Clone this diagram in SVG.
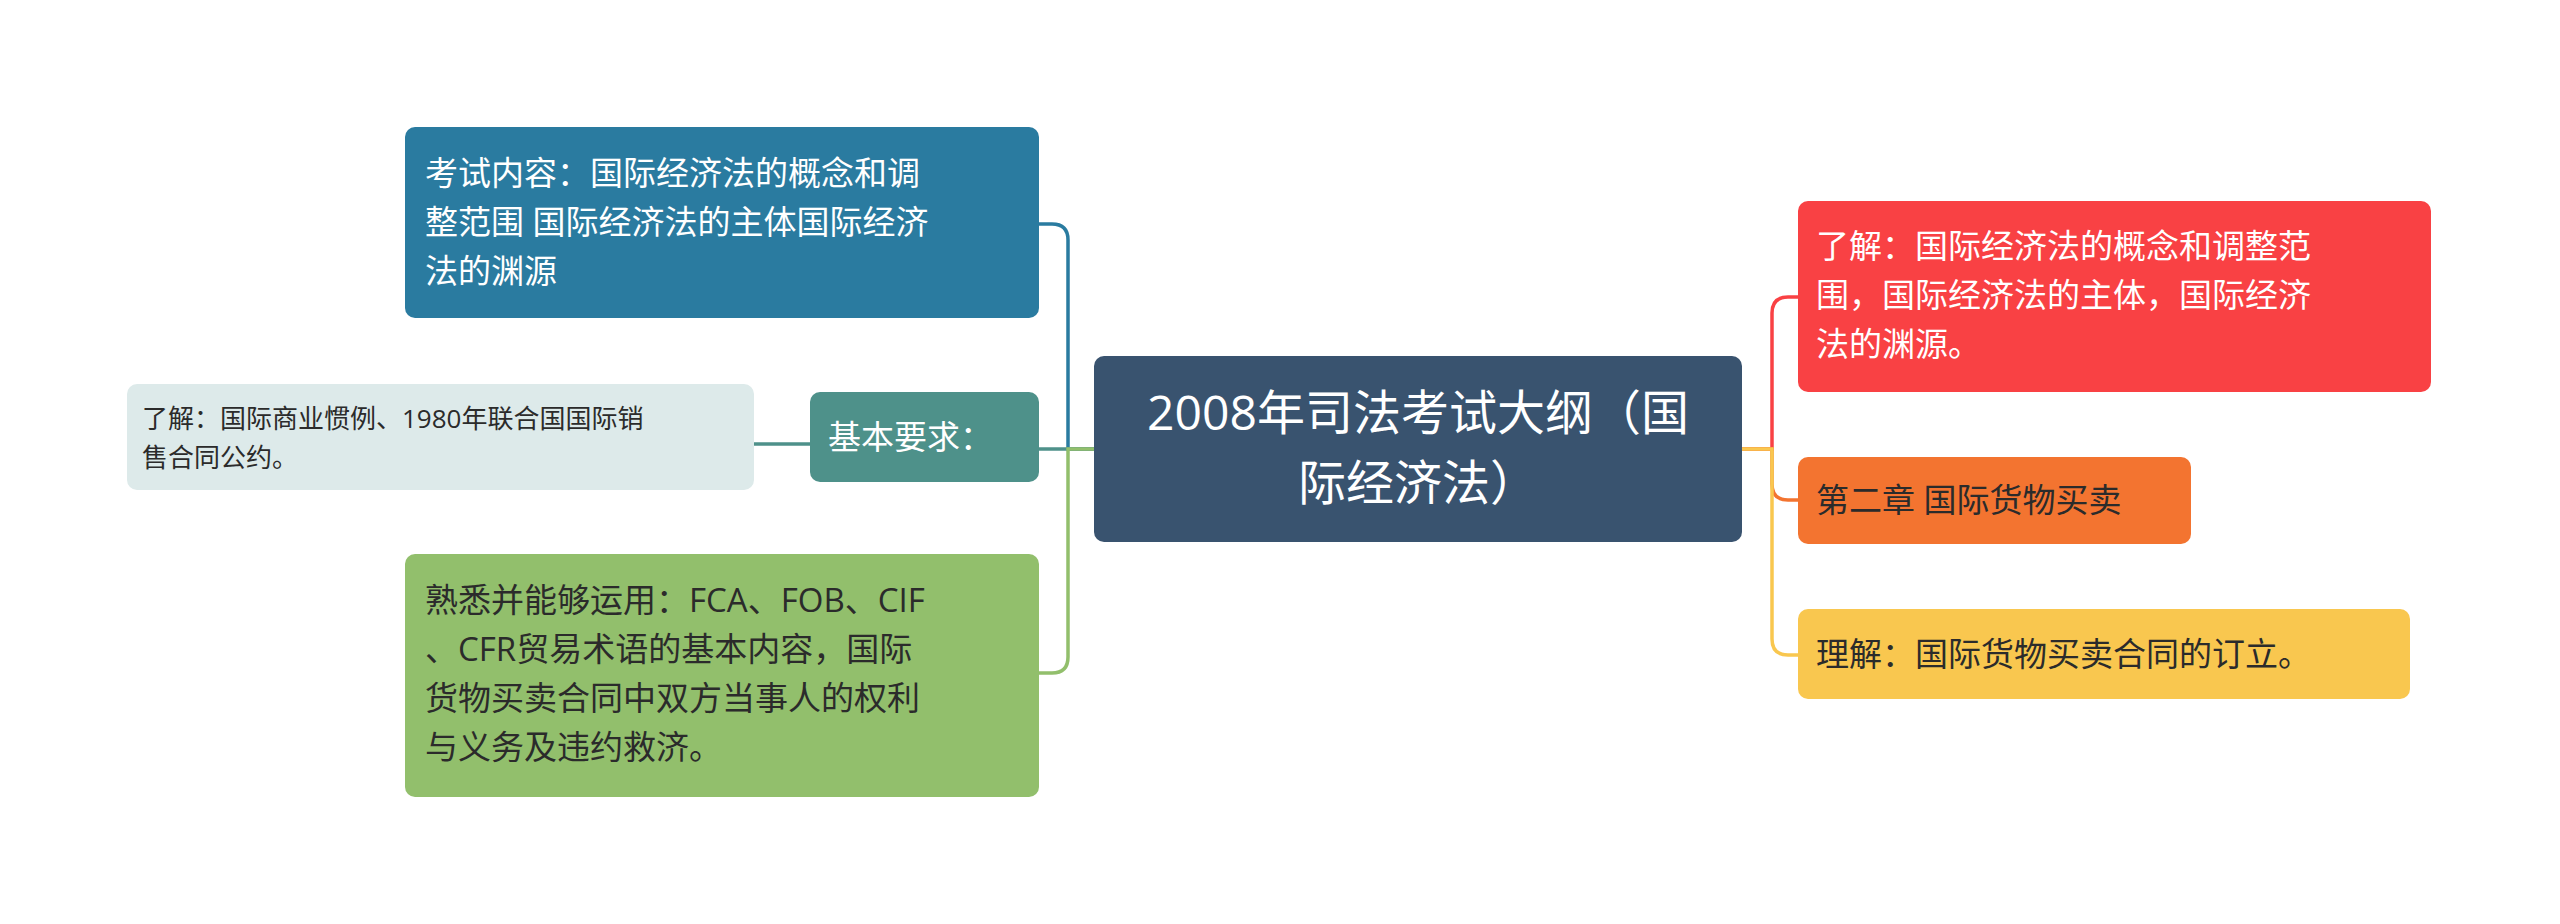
<svg xmlns="http://www.w3.org/2000/svg" width="2560" height="924" viewBox="0 0 2560 924">
<style>
text{font-family:"Open Sans","Noto Sans CJK SC",sans-serif;}
.w{fill:#fff;font-size:33px}
.d{fill:#2b2b2b;font-size:33px}
.c{fill:none;stroke-width:3.5}
</style>
<rect width="2560" height="924" fill="#fff"/>
<g id="connectors">
<path class="c" stroke="#2a7ba0" d="M1094 449 H1068 V240 Q1068 224 1052 224 H1039"/>
<path class="c" stroke="#4e918a" d="M1094 449 H1039"/>
<path class="c" stroke="#4e918a" d="M810 444 H754"/>
<path class="c" stroke="#92bf6c" d="M1094 449 H1068 V657 Q1068 673 1052 673 H1039"/>
<path class="c" stroke="#f94144" d="M1742 449 H1772 V313 Q1772 297 1788 297 H1798"/>
<path class="c" stroke="#f37430" d="M1742 449 H1772 V484 Q1772 500 1788 500 H1798"/>
<path class="c" stroke="#f9c74f" d="M1742 449 H1772 V639 Q1772 655 1788 655 H1798"/>
</g>
<g id="center"><rect x="1094" y="356" width="648" height="186" rx="10" fill="#39536f"/>
<text x="1418" y="430" text-anchor="middle" fill="#fff" font-size="48">2008年司法考试大纲（国</text>
<text x="1418" y="500" text-anchor="middle" fill="#fff" font-size="48">际经济法）</text></g>
<g id="n1"><rect x="405" y="127" width="634" height="191" rx="10" fill="#2a7ba0"/>
<text class="w" x="425" y="185">考试内容：国际经济法的概念和调</text>
<text class="w" x="425" y="234">整范围 国际经济法的主体国际经济</text>
<text class="w" x="425" y="283">法的渊源</text></g>
<g id="n2"><rect x="810" y="392" width="229" height="90" rx="10" fill="#4e918a"/>
<text class="w" x="828" y="449">基本要求：</text></g>
<g id="n3"><rect x="127" y="384" width="627" height="106" rx="10" fill="#ddeaea"/>
<text x="142" y="428" fill="#2b2b2b" font-size="26">了解：国际商业惯例、1980年联合国国际销</text>
<text x="142" y="467" fill="#2b2b2b" font-size="26">售合同公约。</text></g>
<g id="n4"><rect x="405" y="554" width="634" height="243" rx="10" fill="#92bf6c"/>
<text class="d" x="425" y="612">熟悉并能够运用：FCA、FOB、CIF</text>
<text class="d" x="425" y="661">、CFR贸易术语的基本内容，国际</text>
<text class="d" x="425" y="710">货物买卖合同中双方当事人的权利</text>
<text class="d" x="425" y="759">与义务及违约救济。</text></g>
<g id="n5"><rect x="1798" y="201" width="633" height="191" rx="10" fill="#f94144"/>
<text class="w" x="1816" y="258">了解：国际经济法的概念和调整范</text>
<text class="w" x="1816" y="307">围，国际经济法的主体，国际经济</text>
<text class="w" x="1816" y="356">法的渊源。</text></g>
<g id="n6"><rect x="1798" y="457" width="393" height="87" rx="10" fill="#f37430"/>
<text class="d" x="1816" y="512">第二章 国际货物买卖</text></g>
<g id="n7"><rect x="1798" y="609" width="612" height="90" rx="10" fill="#f9c74f"/>
<text class="d" x="1816" y="666">理解：国际货物买卖合同的订立。</text></g>
</svg>
